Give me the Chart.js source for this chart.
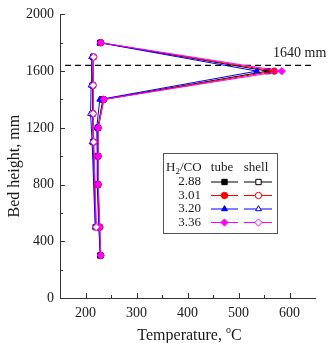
<!DOCTYPE html>
<html>
<head>
<meta charset="utf-8">
<script src="https://cdn.jsdelivr.net/npm/chart.js@4/dist/chart.umd.min.js"></script>
<style>
  html, body { margin: 0; padding: 0; background: #fff; }
  #wrap { width: 327px; height: 343px; position: relative; }
</style>
</head>
<body>
<div id="wrap"><canvas id="bedChart"></canvas></div>
<script>
// bed height positions (mm)
const tubeHeights = [300, 500, 800, 1000, 1200, 1400, 1600, 1800];
const shellHeights = [500, 1100, 1300, 1500, 1700];

// H2/CO ratios
const ratioLabels = ['2.88', '3.01', '3.20', '3.36'];

// tube side temperatures (°C)
const tube288 = [229, 227, 224, 224, 224, 234, 557, 229];
const tube301 = [230, 228, 225, 225, 225, 236, 570, 230];
const tube320 = [229, 226, 223, 223, 222, 228, 536, 228];
const tube336 = [230, 228, 225, 225, 225, 236, 585, 230];

// shell side temperatures (°C)
const shell288 = [220, 215, 214, 214, 215];
const shell301 = [221, 216, 215, 215, 216];
const shell320 = [219, 213, 210, 211, 212];
const shell336 = [221, 216, 215, 215, 216];

const hotSpotHeight = 1640;
const hotSpotLabel = '1640 mm';

const xMin = 150, xMax = 650;
const yMin = 0, yMax = 2000;

const colors = ['#000000', '#ff0000', '#0000ff', '#ff00ff'];
const styles = ['rect', 'circle', 'triangle', 'rectRot'];
const radii = [3.8, 3.2, 3.4, 3.6];
const SERIF = "'Liberation Serif', 'Times New Roman', serif";

function toPoints(xs, hs) {
    return xs.map((v, i) => ({x: v, y: hs[i]}));
}

const tubeSets = [tube288, tube301, tube320, tube336];
const shellSets = [shell288, shell301, shell320, shell336];

const datasets = [];
tubeSets.forEach((arr, i) => {
    datasets.push({
        label: ratioLabels[i] + ' tube',
        data: toPoints(arr, tubeHeights),
        showLine: true,
        borderColor: colors[i],
        backgroundColor: colors[i],
        borderWidth: 1,
        pointStyle: styles[i],
        pointRadius: radii[i],
        pointBorderWidth: 1,
        pointBorderColor: colors[i],
        pointBackgroundColor: colors[i],
        order: 8 - i
    });
});
shellSets.forEach((arr, i) => {
    datasets.push({
        label: ratioLabels[i] + ' shell',
        data: toPoints(arr, shellHeights),
        showLine: true,
        borderColor: colors[i],
        backgroundColor: '#ffffff',
        borderWidth: 1,
        pointStyle: styles[i],
        pointRadius: radii[i],
        pointBorderWidth: 1,
        pointBorderColor: colors[i],
        pointBackgroundColor: '#ffffff',
        order: 4 - i
    });
});
// dashed hot-spot line
datasets.push({
    label: 'hot spot',
    data: [{x: xMin + 10, y: hotSpotHeight}, {x: xMax, y: hotSpotHeight}],
    showLine: true,
    borderColor: '#000',
    borderWidth: 1.3,
    borderDash: [6, 4],
    pointRadius: 0,
    order: 10
});

function drawMarker(ctx, style, r, x, y, fill, stroke) {
    ctx.fillStyle = fill;
    ctx.strokeStyle = stroke;
    ctx.lineWidth = 1;
    if (Chart.helpers && Chart.helpers.drawPoint) {
        Chart.helpers.drawPoint(ctx, {pointStyle: style, radius: r, rotation: 0, borderWidth: 1}, x, y);
    } else {
        ctx.beginPath();
        ctx.arc(x, y, r, 0, Math.PI * 2);
        ctx.fill();
        ctx.stroke();
    }
}

// inward major / minor ticks
const innerTicks = {
    id: 'innerTicks',
    afterDraw(chart) {
        const {ctx, chartArea: a} = chart;
        const xs = chart.scales.x, ys = chart.scales.y;
        ctx.save();
        ctx.strokeStyle = '#333';
        ctx.lineWidth = 1;
        ctx.beginPath();
        xs.ticks.forEach(t => {
            if (t.value <= xs.min || t.value >= xs.max) return;
            const px = Math.round(xs.getPixelForValue(t.value)) + 0.5;
            const len = t.value % 100 === 0 ? 5 : 3;
            ctx.moveTo(px, a.bottom);
            ctx.lineTo(px, a.bottom - len);
        });
        ys.ticks.forEach(t => {
            if (t.value <= ys.min) return;
            const py = Math.round(ys.getPixelForValue(t.value)) + 0.5;
            const len = t.value % 400 === 0 ? 5 : 3;
            ctx.moveTo(a.left, py);
            ctx.lineTo(a.left + len, py);
        });
        ctx.stroke();
        ctx.restore();
    }
};

// axis titles, hot-spot label and the two-column legend
const annotations = {
    id: 'annotations',
    afterDraw(chart) {
        const {ctx, chartArea: a} = chart;
        const xs = chart.scales.x, ys = chart.scales.y;
        ctx.save();
        ctx.fillStyle = '#1a1a1a';
        ctx.textBaseline = 'middle';

        // y title
        ctx.save();
        ctx.translate(15, (a.top + a.bottom) / 2 + 10);
        ctx.rotate(-Math.PI / 2);
        ctx.font = '16px ' + SERIF;
        ctx.textAlign = 'center';
        ctx.fillText('Bed height, mm', 0, 0);
        ctx.restore();

        // x title with superscript o
        const partA = 'Temperature, ', partB = 'o', partC = 'C';
        ctx.font = '16px ' + SERIF;
        const wA = ctx.measureText(partA).width, wC = ctx.measureText(partC).width;
        ctx.font = '10px ' + SERIF;
        const wB = ctx.measureText(partB).width;
        let tx = (a.left + a.right) / 2 + 2 - (wA + wB + wC) / 2;
        const ty = 336;
        ctx.textAlign = 'left';
        ctx.font = '16px ' + SERIF;
        ctx.fillText(partA, tx, ty);
        tx += wA;
        ctx.font = '10px ' + SERIF;
        ctx.fillText(partB, tx, ty - 6);
        tx += wB;
        ctx.font = '16px ' + SERIF;
        ctx.fillText(partC, tx, ty);

        // hot-spot label
        ctx.font = '14px ' + SERIF;
        ctx.textAlign = 'center';
        ctx.fillText(hotSpotLabel, xs.getPixelForValue(620), ys.getPixelForValue(hotSpotHeight) - 12);

        // legend box
        const bx = 163.5, by = 153.5, bw = 114, bh = 80;
        ctx.fillStyle = '#fff';
        ctx.fillRect(bx, by, bw, bh);
        ctx.strokeStyle = '#555';
        ctx.lineWidth = 1;
        ctx.strokeRect(bx, by, bw, bh);

        ctx.fillStyle = '#1a1a1a';
        ctx.textAlign = 'left';
        ctx.font = '13px ' + SERIF;
        let hx = 166;
        const hy = 168;
        ctx.fillText('H', hx, hy);
        hx += ctx.measureText('H').width;
        ctx.font = '9px ' + SERIF;
        ctx.fillText('2', hx, hy + 4);
        hx += ctx.measureText('2').width;
        ctx.font = '13px ' + SERIF;
        ctx.fillText('/CO', hx, hy);
        ctx.textAlign = 'center';
        ctx.fillText('tube', 222, hy);
        ctx.fillText('shell', 256, hy);

        const rowY = [182, 195.5, 209, 222.5];
        ratioLabels.forEach((lab, i) => {
            const ry = rowY[i];
            ctx.fillStyle = '#1a1a1a';
            ctx.textAlign = 'center';
            ctx.font = '13px ' + SERIF;
            ctx.fillText(lab, 189.5, ry);
            ctx.strokeStyle = colors[i];
            ctx.lineWidth = 1;
            ctx.beginPath();
            ctx.moveTo(211, ry); ctx.lineTo(238, ry);
            ctx.moveTo(244, ry); ctx.lineTo(272, ry);
            ctx.stroke();
            drawMarker(ctx, styles[i], radii[i], 224.5, ry, colors[i], colors[i]);
            drawMarker(ctx, styles[i], radii[i], 258.5, ry, '#ffffff', colors[i]);
        });
        ctx.restore();
    }
};

new Chart(document.getElementById('bedChart').getContext('2d'), {
    type: 'scatter',
    data: { datasets: datasets },
    options: {
        responsive: true,
        maintainAspectRatio: false,
        animation: false,
        layout: { padding: { top: 8, right: 12, left: 0, bottom: 0 } },
        plugins: {
            legend: { display: false },
            tooltip: { enabled: false }
        },
        elements: { line: { tension: 0 } },
        scales: {
            x: {
                type: 'linear',
                min: xMin,
                max: xMax,
                grid: { display: false, drawTicks: false },
                border: { display: true, color: '#333', width: 1 },
                ticks: {
                    stepSize: 50,
                    autoSkip: false,
                    maxRotation: 0,
                    padding: 7,
                    color: '#1a1a1a',
                    font: { family: SERIF, size: 14 },
                    callback: v => (v % 100 === 0 ? v : '')
                },
                afterFit: s => { s.height = 45; }
            },
            y: {
                type: 'linear',
                min: yMin,
                max: yMax,
                grid: { display: false, drawTicks: false },
                border: { display: true, color: '#333', width: 1 },
                ticks: {
                    stepSize: 200,
                    autoSkip: false,
                    padding: 6,
                    color: '#1a1a1a',
                    font: { family: SERIF, size: 14 },
                    callback: v => (v % 400 === 0 ? v : '')
                },
                afterFit: s => { s.width = 60; }
            }
        }
    },
    plugins: [innerTicks, annotations]
});
</script>
</body>
</html>
